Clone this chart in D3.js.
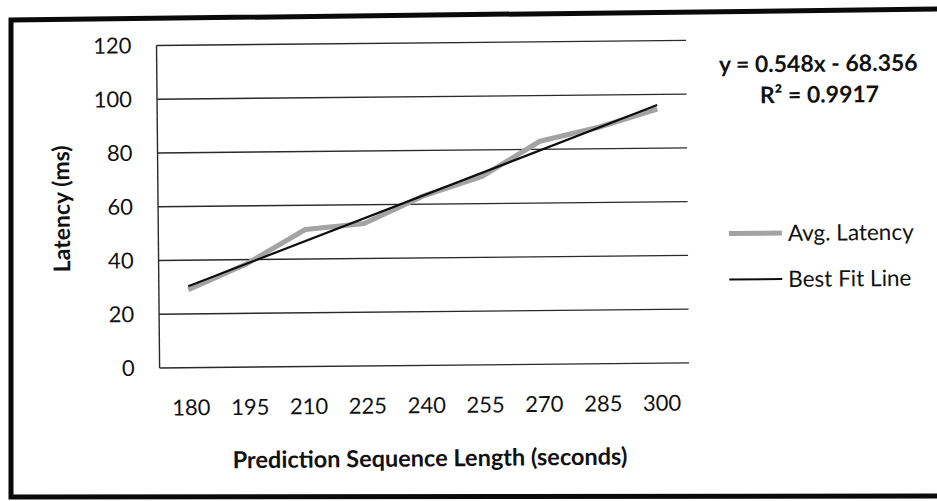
<!DOCTYPE html>
<html>
<head>
<meta charset="utf-8">
<script src="https://cdn.jsdelivr.net/npm/d3@7"></script>
<style>
  html, body { margin: 0; padding: 0; background: #fff; }
  svg { display: block; }
  text { font-family: Lato, "Open Sans", sans-serif; fill: #111; }
</style>
</head>
<body>
<svg id="chart" width="937" height="501"></svg>
<script>
// Prediction sequence lengths (seconds) and measured average latency (ms)
const categories = [180, 195, 210, 225, 240, 255, 270, 285, 300];
const avgLatency = [29, 38.5, 51, 53, 63, 70, 83, 88, 94.5];
// Linear trendline coefficients as stated on the chart
const fitSlope = 0.548;
const fitIntercept = -68.356;
const fitR2 = 0.9917;
const yTicks = [0, 20, 40, 60, 80, 100, 120];

const W = 937, H = 501;
const plot = { left: 158.5, top: 42.5, right: 688, bottom: 365 };

const svg = d3.select("#chart");

// outer frame (runs off the right edge of the sheet)
svg.append("path")
  .attr("d", "M 945 9 L 11 20 L 11 497 L 945 496")
  .attr("fill", "none").attr("stroke", "#0a0a0a").attr("stroke-width", 5)
  .attr("stroke-linejoin", "miter");

// the chart body sits slightly tilted
const root = svg.append("g").attr("transform", `rotate(-0.55 ${W / 2} ${H / 2})`);

const x = d3.scaleBand().domain(categories).range([plot.left, plot.right]).padding(0);
const xc = d => x(d) + x.bandwidth() / 2;
const y = d3.scaleLinear().domain([0, 120]).range([plot.bottom, plot.top]);

// horizontal gridlines
root.append("g").selectAll("line").data(yTicks).join("line")
  .attr("x1", plot.left).attr("x2", plot.right)
  .attr("y1", d => y(d)).attr("y2", d => y(d))
  .attr("stroke", "#2a2a2a").attr("stroke-width", 1.4);

// vertical axis line
root.append("line")
  .attr("x1", plot.left).attr("x2", plot.left)
  .attr("y1", plot.top).attr("y2", plot.bottom)
  .attr("stroke", "#2a2a2a").attr("stroke-width", 1.4);

// y tick labels
const yAxis = d3.axisLeft(y).tickValues(yTicks).tickSize(0).tickPadding(25);
const gy = root.append("g").attr("transform", `translate(${plot.left},0)`).call(yAxis);
gy.select(".domain").remove();
gy.selectAll("text").style("font-family", "Lato, sans-serif").style("font-size", "22px").attr("fill", "#111");

// x tick labels
const xAxis = d3.axisBottom(x).tickSize(0).tickPadding(32);
const gx = root.append("g").attr("transform", `translate(2,${plot.bottom})`).call(xAxis);
gx.select(".domain").remove();
gx.selectAll("text").style("font-family", "Lato, sans-serif").style("font-size", "22px").attr("fill", "#111");

// average latency series
const line = d3.line().x((d, i) => xc(categories[i])).y(d => y(d));
root.append("path").datum(avgLatency)
  .attr("d", line)
  .attr("fill", "none").attr("stroke", "#a3a3a3").attr("stroke-width", 5)
  .attr("stroke-linejoin", "round");

// best fit line from the stated equation
const fitVals = [categories[0], categories[categories.length - 1]].map(c => ({ c, v: fitSlope * c + fitIntercept }));
root.append("path").datum(fitVals)
  .attr("d", d3.line().x(d => xc(d.c)).y(d => y(d.v)))
  .attr("fill", "none").attr("stroke", "#0d0d0d").attr("stroke-width", 2.2);

// axis titles
root.append("text")
  .attr("x", 428).attr("y", 466).attr("text-anchor", "middle")
  .style("font-size", "23.5px").style("font-weight", "bold")
  .text("Prediction Sequence Length (seconds)");
root.append("text")
  .attr("transform", "translate(70,205) rotate(-90)").attr("text-anchor", "middle")
  .style("font-size", "23px").style("font-weight", "bold")
  .text("Latency (ms)");

// trendline equation
const eq = root.append("g").attr("text-anchor", "middle").style("font-size", "23px").style("font-weight", "bold");
eq.append("text").attr("x", 820).attr("y", 75)
  .text(`y = ${fitSlope}x - ${Math.abs(fitIntercept).toFixed(3)}`);
eq.append("text").attr("x", 821).attr("y", 106)
  .text(`R² = ${fitR2}`);

// legend
const legend = [
  { label: "Avg. Latency", color: "#a3a3a3", width: 5 },
  { label: "Best Fit Line", color: "#0d0d0d", width: 2 }
];
const lg = root.append("g").selectAll("g").data(legend).join("g")
  .attr("transform", (d, i) => `translate(729,${236 + i * 46})`);
lg.append("line").attr("x1", 0).attr("x2", 53).attr("y1", 0).attr("y2", 0)
  .attr("stroke", d => d.color).attr("stroke-width", d => d.width);
lg.append("text").attr("x", 59).attr("y", 8)
  .style("font-size", "22.5px").text(d => d.label);
</script>
</body>
</html>
